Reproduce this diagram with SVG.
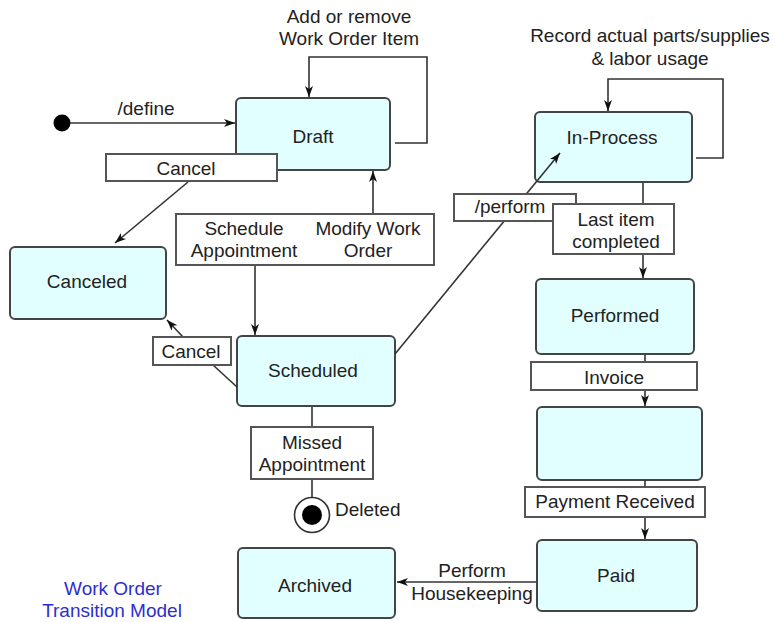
<svg xmlns="http://www.w3.org/2000/svg" width="773" height="622" viewBox="0 0 773 622">
  <style>
    text { font-family: "Liberation Sans", Arial, sans-serif; font-size: 19px; fill: #222; }
    .mid { text-anchor: middle; }
    .state { fill: #e2ffff; stroke: #444; stroke-width: 2; }
    .label { fill: #fff; stroke: #555; stroke-width: 2; }
    .wire { fill: none; stroke: #333; stroke-width: 1.6; }
    .note { fill: #2e2ed0; }
  </style>
  <defs>
    <marker id="arrow" markerWidth="12" markerHeight="10" refX="11" refY="5" orient="auto" markerUnits="userSpaceOnUse">
      <path d="M0,1 L11,5 L0,9 L3,5 Z" fill="#111"/>
    </marker>
  </defs>

  <!-- initial pseudo-state -->
  <g id="initial">
    <circle cx="62" cy="123" r="8.5" fill="#000"/>
  </g>

  <!-- states -->
  <g id="draft">
    <rect class="state" x="236" y="98" width="154" height="72" rx="5"/>
    <text class="mid" x="313" y="143">Draft</text>
  </g>
  <g id="canceled">
    <rect class="state" x="10" y="247" width="156" height="72" rx="5"/>
    <text class="mid" x="87" y="288">Canceled</text>
  </g>
  <g id="scheduled">
    <rect class="state" x="237" y="336" width="158" height="70" rx="5"/>
    <text class="mid" x="313" y="377">Scheduled</text>
  </g>
  <g id="in-process">
    <rect class="state" x="535" y="112" width="157" height="70" rx="5"/>
    <text class="mid" x="612" y="144">In-Process</text>
  </g>
  <g id="performed">
    <rect class="state" x="536" y="279" width="158" height="75" rx="5"/>
    <text class="mid" x="615" y="322">Performed</text>
  </g>
  <g id="invoiced">
    <rect class="state" x="537" y="407" width="165" height="73" rx="5"/>
  </g>
  <g id="paid">
    <rect class="state" x="537" y="540" width="160" height="71" rx="5"/>
    <text class="mid" x="616" y="582">Paid</text>
  </g>
  <g id="archived">
    <rect class="state" x="238" y="548" width="157" height="70" rx="5"/>
    <text class="mid" x="315" y="592">Archived</text>
  </g>

  <!-- final pseudo-state -->
  <g id="deleted">
    <circle cx="312" cy="515" r="17.5" fill="#fff" stroke="#333" stroke-width="1.6"/>
    <circle cx="312" cy="515" r="10" fill="#000"/>
    <text x="335" y="516">Deleted</text>
  </g>

  <!-- connectors (drawn over the states, under the label boxes) -->
  <g id="connectors">
    <line class="wire" x1="70" y1="123" x2="235" y2="123" marker-end="url(#arrow)"/>
    <polyline class="wire" points="395,143 427,143 427,57 309,57 309,97" marker-end="url(#arrow)"/>
    <line class="wire" x1="188" y1="182" x2="115" y2="243" marker-end="url(#arrow)"/>
    <line class="wire" x1="373" y1="214" x2="373" y2="171" marker-end="url(#arrow)"/>
    <line class="wire" x1="255" y1="265" x2="255" y2="335" marker-end="url(#arrow)"/>
    <polyline class="wire" points="237,387 213,365"/>
    <line class="wire" x1="183" y1="337" x2="167" y2="320" marker-end="url(#arrow)"/>
    <line class="wire" x1="395" y1="354" x2="560" y2="153" marker-end="url(#arrow)"/>
    <polyline class="wire" points="696,158 723,158 723,79 608,79 608,111" marker-end="url(#arrow)"/>
    <line class="wire" x1="643" y1="183" x2="643" y2="204"/>
    <line class="wire" x1="643" y1="254" x2="643" y2="278" marker-end="url(#arrow)"/>
    <line class="wire" x1="645" y1="355" x2="645" y2="362"/>
    <line class="wire" x1="645" y1="390" x2="645" y2="406" marker-end="url(#arrow)"/>
    <line class="wire" x1="645" y1="480" x2="645" y2="487"/>
    <line class="wire" x1="645" y1="517" x2="645" y2="539" marker-end="url(#arrow)"/>
    <line class="wire" x1="312" y1="407" x2="312" y2="427"/>
    <line class="wire" x1="312" y1="479" x2="312" y2="497"/>
    <line class="wire" x1="536" y1="582" x2="397" y2="582" marker-end="url(#arrow)"/>
  </g>

  <!-- transition labels -->
  <g id="lbl-define">
    <text class="mid" x="146" y="115">/define</text>
  </g>
  <g id="lbl-add-item">
    <text class="mid" x="349" y="23">Add or remove</text>
    <text class="mid" x="349" y="45">Work Order Item</text>
  </g>
  <g id="lbl-cancel-draft">
    <rect class="label" x="106" y="154" width="171" height="27"/>
    <text class="mid" x="186" y="175">Cancel</text>
  </g>
  <g id="lbl-schedule-modify">
    <rect class="label" x="176" y="214" width="258" height="51"/>
    <text class="mid" x="244" y="235">Schedule</text>
    <text class="mid" x="244" y="257">Appointment</text>
    <text class="mid" x="368" y="235">Modify Work</text>
    <text class="mid" x="368" y="257">Order</text>
  </g>
  <g id="lbl-cancel-scheduled">
    <rect class="label" x="153" y="337" width="78" height="28"/>
    <text class="mid" x="191" y="358">Cancel</text>
  </g>
  <g id="lbl-missed">
    <rect class="label" x="251" y="427" width="122" height="52"/>
    <text class="mid" x="312" y="449">Missed</text>
    <text class="mid" x="312" y="471">Appointment</text>
  </g>
  <g id="lbl-record-usage">
    <text class="mid" x="650" y="42">Record actual parts/supplies</text>
    <text class="mid" x="650" y="65">&amp; labor usage</text>
  </g>
  <g id="lbl-perform">
    <rect class="label" x="454" y="194" width="122" height="27"/>
    <text class="mid" x="510" y="213">/perform</text>
  </g>
  <g id="lbl-last-item">
    <rect class="label" x="553" y="204" width="121" height="50"/>
    <text class="mid" x="616" y="226">Last item</text>
    <text class="mid" x="616" y="248">completed</text>
  </g>
  <g id="lbl-invoice">
    <rect class="label" x="531" y="362" width="166" height="28"/>
    <text class="mid" x="614" y="384">Invoice</text>
  </g>
  <g id="lbl-payment">
    <rect class="label" x="525" y="487" width="180" height="30"/>
    <text class="mid" x="615" y="508">Payment Received</text>
  </g>
  <g id="lbl-housekeeping">
    <text class="mid" x="472" y="577">Perform</text>
    <text class="mid" x="472" y="600">Housekeeping</text>
  </g>

  <!-- caption -->
  <g id="caption">
    <text class="mid note" x="113" y="595">Work Order</text>
    <text class="mid note" x="112" y="617">Transition Model</text>
  </g>
</svg>
